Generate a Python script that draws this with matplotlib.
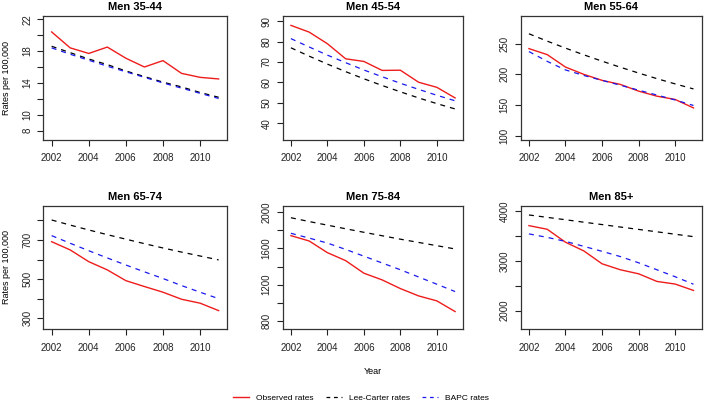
import numpy as np
import matplotlib
matplotlib.use("Agg")
import matplotlib.pyplot as plt

plt.rcParams['font.family'] = ['Liberation Sans', 'DejaVu Sans']

# ---------------- DATA ----------------

years = [2002, 2003, 2004, 2005, 2006, 2007, 2008, 2009, 2010, 2011]

titles = ["Men 35-44", "Men 45-54", "Men 55-64",
          "Men 65-74", "Men 75-84", "Men 85+"]

observed_35 = [20.4, 18.4, 17.7, 18.5, 17.1, 16.0, 16.8, 15.2, 14.7, 14.5]
leecarter_35 = [18.6, 17.8, 17.0, 16.3, 15.5, 14.8, 14.1, 13.5, 12.8, 12.2]
bapc_35 = [18.4, 17.6, 16.85, 16.1, 15.4, 14.7, 14.0, 13.35, 12.7, 12.05]

observed_45 = [88.0, 84.7, 79.0, 71.6, 70.3, 65.9, 66.0, 60.1, 57.6, 52.4]
leecarter_45 = [77.0, 72.9, 69.0, 65.3, 61.8, 58.5, 55.4, 52.4, 49.6, 47.0]
bapc_45 = [81.5, 77.4, 73.4, 69.7, 66.1, 62.8, 59.6, 56.6, 53.7, 51.0]

observed_55 = [241.8, 232.0, 211.7, 199.8, 190.0, 183.4, 172.4, 164.2, 158.8, 145.0]
leecarter_55 = [266, 254, 242.6, 231.7, 221.3, 211.4, 201.9, 192.8, 184.2, 176]
bapc_55 = [237, 221, 207, 198, 190, 182, 174, 166, 158, 149]

observed_65 = [691, 649, 589, 547, 492, 462, 433, 397, 377, 339]
leecarter_65 = [802, 776, 751, 727, 704, 681, 659, 638, 618, 598]
bapc_65 = [722, 683, 645, 608, 572, 537, 503, 467, 433, 400]

observed_75 = [1742, 1683, 1554, 1466, 1327, 1253, 1157, 1076, 1021, 903]
leecarter_75 = [1940, 1898, 1858, 1818, 1779, 1741, 1703, 1667, 1631, 1595]
bapc_75 = [1768, 1715, 1660, 1590, 1515, 1440, 1365, 1285, 1205, 1124]

observed_85 = [3706, 3633, 3373, 3199, 2940, 2820, 2739, 2586, 2533, 2405]
leecarter_85 = [3920, 3872, 3824, 3775, 3727, 3678, 3630, 3582, 3533, 3485]
bapc_85 = [3540, 3470, 3390, 3290, 3190, 3085, 2960, 2820, 2680, 2530]

observed = [observed_35, observed_45, observed_55, observed_65, observed_75, observed_85]
leecarter = [leecarter_35, leecarter_45, leecarter_55, leecarter_65, leecarter_75, leecarter_85]
bapc = [bapc_35, bapc_45, bapc_55, bapc_65, bapc_75, bapc_85]

# y limits, tick positions and which ticks get labels
ylims = [(6.9, 22.4), (32, 92.6), (93.5, 295), (244, 875), (708, 2073), (1627, 4106)]
yticks = [np.arange(8, 23, 2), np.arange(40, 91, 10), np.arange(100, 251, 50),
          np.arange(300, 801, 100), np.arange(800, 2001, 200), np.arange(2000, 4001, 500)]
ylabeled = [[8, 10, 14, 18, 22], [40, 50, 60, 70, 80, 90], [100, 150, 200, 250],
            [300, 500, 700], [800, 1200, 1600, 2000], [2000, 3000, 4000]]

# ---------------- FIGURE ----------------

fig = plt.figure(figsize=(7.04, 4.07), dpi=100)

W, H = 704.0, 407.0
lefts = [43.3, 282.7, 520.7]
widths = [183.7, 180.6, 181.0]
tops = [16.0, 205.7]
height = 123.5

dash = (0, (4, 4))

for i in range(6):
    r, c = divmod(i, 3)
    ax = fig.add_axes([lefts[c] / W, 1 - (tops[r] + height) / H,
                       widths[c] / W, height / H])

    ax.plot(years, observed[i], color="#ee1c1c", lw=1.0)
    ax.plot(years, leecarter[i], color="black", lw=0.9, linestyle=dash)
    ax.plot(years, bapc[i], color="#1a1aee", lw=0.9, linestyle=dash)

    ax.set_xlim(2001.55, 2011.45)
    ax.set_ylim(*ylims[i])
    ax.set_xticks([2002, 2004, 2006, 2008, 2010])
    ax.set_yticks(yticks[i])
    ax.set_yticklabels([str(int(t)) if t in ylabeled[i] else "" for t in yticks[i]],
                       rotation=90, va="center")

    ax.tick_params(direction="out", length=4, width=0.8, labelsize=7,
                   colors="#222222")
    ax.tick_params(axis="x", pad=6)
    ax.tick_params(axis="y", pad=4)
    for s in ax.spines.values():
        s.set_linewidth(0.9)
        s.set_color("#333333")

    ax.set_title(titles[i], fontsize=8, fontweight="bold", pad=4)

    if c == 0:
        ax.set_ylabel("Rates per 100,000", fontsize=6.5)
        ax.yaxis.set_label_coords(-0.178, 0.5)
    if i == 4:
        ax.set_xlabel("Year", fontsize=6.5, labelpad=10)

# ---------------- LEGEND ----------------

handles = [
    plt.Line2D([], [], color="#ee1c1c", lw=1.0),
    plt.Line2D([], [], color="black", lw=0.9, linestyle=(0, (3, 3))),
    plt.Line2D([], [], color="#1a1aee", lw=0.9, linestyle=(0, (3, 3))),
]

fig.legend(handles, ["Observed rates", "Lee-Carter rates", "BAPC rates"],
           loc="center", bbox_to_anchor=(361 / W, 1 - 398 / H), ncol=3,
           frameon=False, fontsize=6, handlelength=1.9, handletextpad=0.85,
           columnspacing=1.5)

fig.savefig("out.png", dpi=100)
